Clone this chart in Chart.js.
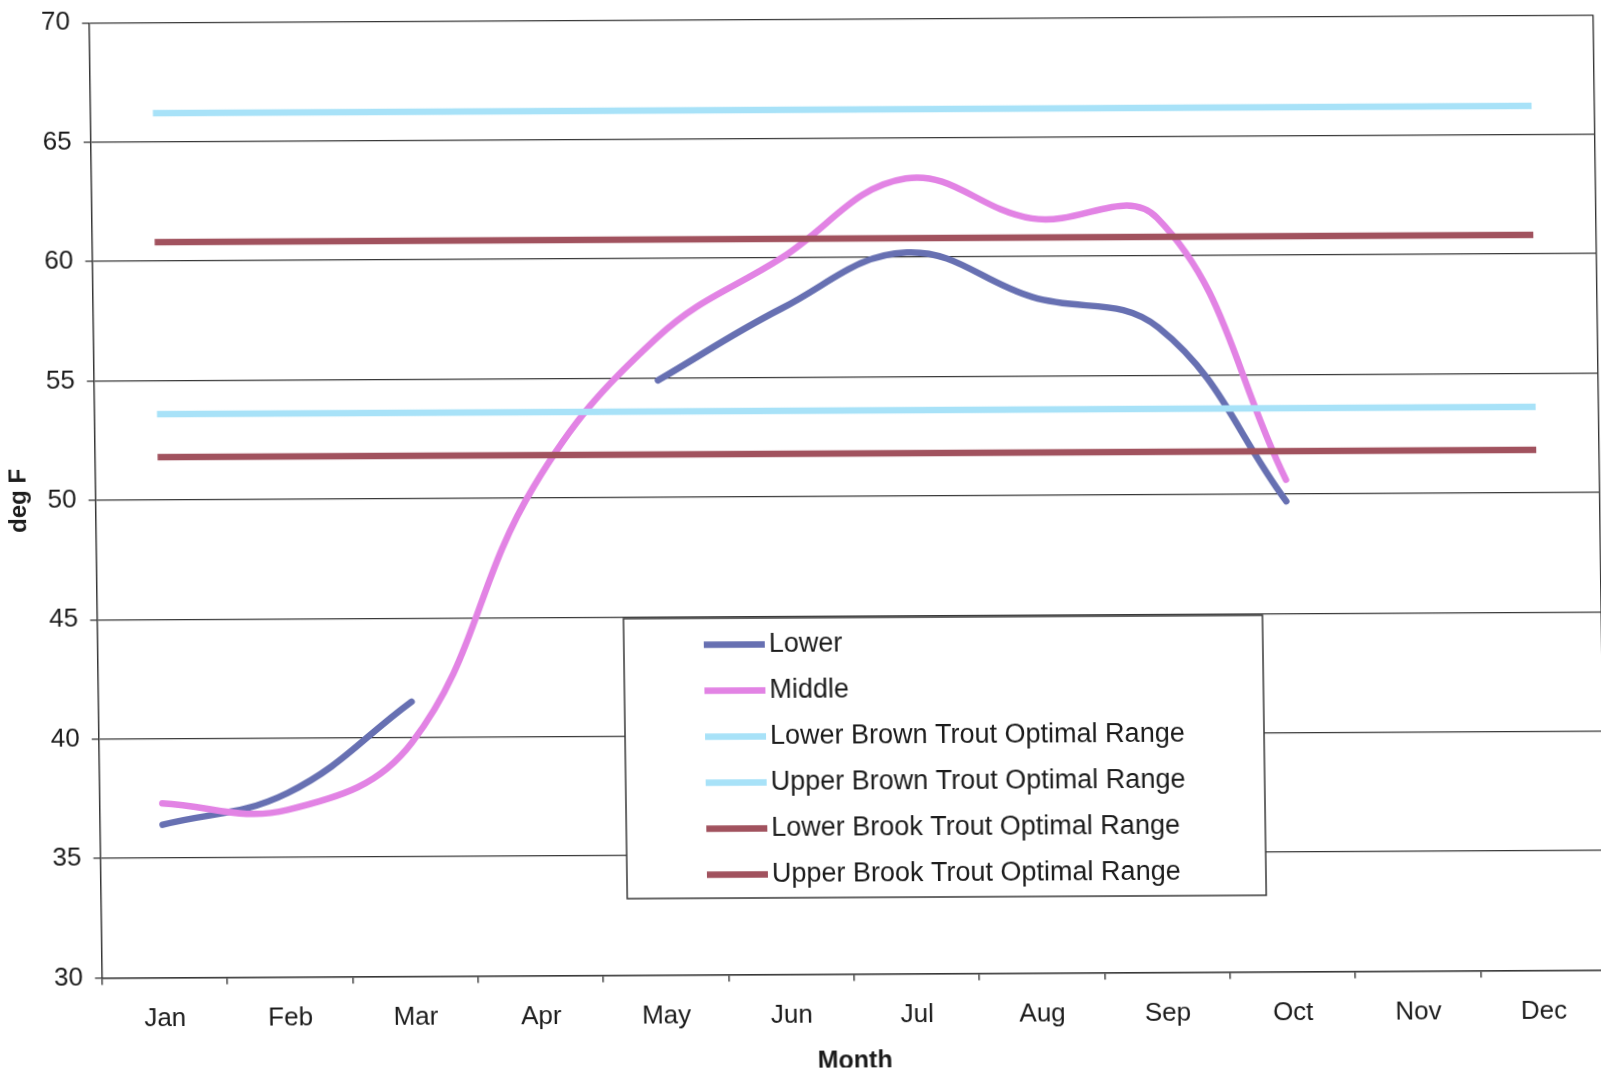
<!DOCTYPE html>
<html>
<head>
<meta charset="utf-8">
<title>Stream temperatures and trout optimal ranges</title>
<script src="https://cdn.jsdelivr.net/npm/chart.js@4.4.1/dist/chart.umd.min.js"></script>
<style>
  html, body { margin: 0; padding: 0; background: #fff; overflow: hidden; }
  #wrap { position: relative; width: 1601px; height: 1072px; }
  /* the printed page sits very slightly askew */
  #chart { position: absolute; left: 0; top: 0; transform-origin: 0 0;
           transform: matrix(1, -0.0053, 0.0136, 1, 0, 0); }
</style>
</head>
<body>
<div id="wrap"><canvas id="chart" width="1601" height="1072"></canvas></div>
<script>
// Monthly water temperature (deg F) at two stream reaches
const months = ['Jan', 'Feb', 'Mar', 'Apr', 'May', 'Jun', 'Jul', 'Aug', 'Sep', 'Oct', 'Nov', 'Dec'];
const lowerReach  = [36.4, 37.7, 41.5, null, 54.9, 57.9, 60.2, 58.3, 57.0, 49.7, null, null];
const middleReach = [37.3, 37.0, 39.8, 50.5, 56.7, 60.0, 63.3, 61.6, 61.6, 50.6, null, null];

// Optimal temperature bands (12-19 C brown trout, 11-16 C brook trout)
const lowerBrownTrout = [53.6, 53.6, 53.6, 53.6, 53.6, 53.6, 53.6, 53.6, 53.6, 53.6, 53.6, 53.6];
const upperBrownTrout = [66.2, 66.2, 66.2, 66.2, 66.2, 66.2, 66.2, 66.2, 66.2, 66.2, 66.2, 66.2];
const lowerBrookTrout = [51.8, 51.8, 51.8, 51.8, 51.8, 51.8, 51.8, 51.8, 51.8, 51.8, 51.8, 51.8];
const upperBrookTrout = [60.8, 60.8, 60.8, 60.8, 60.8, 60.8, 60.8, 60.8, 60.8, 60.8, 60.8, 60.8];

const yTickValues = [30, 35, 40, 45, 50, 55, 60, 65, 70];

const FONT = '"Liberation Sans", Arial, Helvetica, sans-serif';
const INK = '#1c1c1c';
const RULE = '#383838';

const COLORS = {
  lower: '#6770B2',
  middle: '#E283E4',
  brown: '#A8E2F8',
  brook: '#A1525E'
};

// framed legend inside the plot, drawn from the dataset labels and colours
const boxLegend = {
  id: 'boxLegend',
  afterDraw(chart) {
    const ctx = chart.ctx;
    const L = 615, T = 622, W = 639, H = 280;
    ctx.save();
    ctx.fillStyle = '#fff';
    ctx.fillRect(L, T, W, H);
    ctx.strokeStyle = RULE;
    ctx.lineWidth = 1.5;
    ctx.strokeRect(L, T, W, H);
    ctx.font = '27px ' + FONT;
    ctx.textBaseline = 'middle';
    ctx.textAlign = 'left';
    chart.data.datasets.forEach((ds, i) => {
      const y = T + 26.5 + i * 46;
      ctx.strokeStyle = ds.borderColor;
      ctx.lineWidth = 6.5;
      ctx.lineCap = 'butt';
      ctx.beginPath();
      ctx.moveTo(L + 80, y);
      ctx.lineTo(L + 141, y);
      ctx.stroke();
      ctx.fillStyle = INK;
      ctx.fillText(ds.label, L + 145, y);
    });
    ctx.restore();
  }
};

// right edge of the plot frame
const plotFrame = {
  id: 'plotFrame',
  beforeDatasetsDraw(chart) {
    const { ctx, chartArea: a } = chart;
    ctx.save();
    ctx.strokeStyle = RULE;
    ctx.lineWidth = 1.4;
    ctx.beginPath();
    ctx.moveTo(a.right, a.top);
    ctx.lineTo(a.right, a.bottom);
    ctx.stroke();
    ctx.restore();
  }
};

function series(label, data, color, width, order, cap) {
  return {
    label, data, order,
    borderColor: color,
    backgroundColor: color,
    borderWidth: width,
    borderCapStyle: cap,
    borderJoinStyle: 'round',
    pointRadius: 0,
    pointHoverRadius: 0,
    tension: 0.4,
    spanGaps: false,
    fill: false
  };
}

new Chart(document.getElementById('chart'), {
  type: 'line',
  data: {
    labels: months,
    datasets: [
      series('Lower', lowerReach, COLORS.lower, 6.5, 6, 'round'),
      series('Middle', middleReach, COLORS.middle, 6.5, 5, 'round'),
      series('Lower Brown Trout Optimal Range', lowerBrownTrout, COLORS.brown, 6.5, 4, 'butt'),
      series('Upper Brown Trout Optimal Range', upperBrownTrout, COLORS.brown, 6.5, 3, 'butt'),
      series('Lower Brook Trout Optimal Range', lowerBrookTrout, COLORS.brook, 6.5, 2, 'butt'),
      series('Upper Brook Trout Optimal Range', upperBrookTrout, COLORS.brook, 6.5, 1, 'butt')
    ]
  },
  options: {
    responsive: false,
    animation: false,
    devicePixelRatio: 1,
    layout: { padding: { left: 0, top: 23.3, right: 8.3, bottom: 0 } },
    plugins: {
      legend: { display: false },
      tooltip: { enabled: false }
    },
    scales: {
      x: {
        type: 'category',
        offset: true,
        afterFit(scale) { scale.height = 93.5; },
        grid: {
          display: true,
          offset: true,
          drawOnChartArea: false,
          drawTicks: true,
          tickLength: 7,
          color: RULE,
          lineWidth: 1.4
        },
        border: { display: true, color: RULE, width: 1.5 },
        ticks: {
          color: INK,
          font: { family: FONT, size: 26 },
          padding: 19,
          maxRotation: 0,
          autoSkip: false
        },
        title: {
          display: true,
          text: 'Month',
          color: INK,
          font: { family: FONT, size: 25, weight: 'bold', lineHeight: 0.5 },
          padding: { top: 0, bottom: 0 }
        }
      },
      y: {
        type: 'linear',
        min: 30,
        max: 70,
        afterFit(scale) { scale.width = 88.7; },
        afterBuildTicks(scale) { scale.ticks = yTickValues.map(v => ({ value: v })); },
        grid: {
          display: true,
          drawTicks: true,
          tickLength: 7,
          color: RULE,
          lineWidth: 1.3
        },
        border: { display: true, color: RULE, width: 1.5 },
        ticks: {
          color: INK,
          font: { family: FONT, size: 26, lineHeight: 0.8 },
          padding: 12
        },
        title: {
          display: true,
          text: 'deg F',
          color: INK,
          font: { family: FONT, size: 24, weight: 'bold', lineHeight: 0.76 },
          padding: { top: 3, bottom: 0 }
        }
      }
    }
  },
  plugins: [plotFrame, boxLegend]
});
</script>
</body>
</html>
